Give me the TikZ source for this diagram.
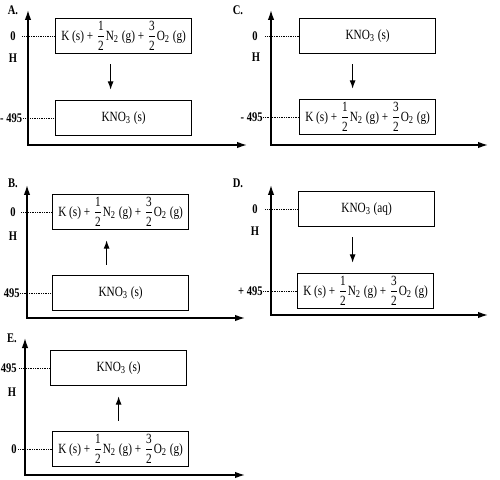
\documentclass[tikz,border=0pt]{standalone}
\usepackage{amsmath}
\usepackage{fontspec}
\setmainfont[FakeStretch=0.8]{Liberation Serif}
\usepackage{tikz}
\usetikzlibrary{arrows.meta, positioning, calc}

\newcommand{\frc}[2]{$\dfrac{\text{#1}}{\text{#2}}$}
\newcommand{\elems}{K (s) + \frc{1}{2}N\textsubscript{2} (g) + \frc{3}{2}O\textsubscript{2} (g)}
\newcommand{\kno}[1]{KNO\textsubscript{3} (#1)}

\begin{document}
\begin{tikzpicture}[
  x=0.2mm, y=-0.2mm,
  font=\fontsize{8}{9.5}\selectfont,
  level/.style={draw, line width=0.7pt, minimum width=27.2mm, minimum height=7mm, inner sep=1pt, anchor=west},
  axis/.style={line width=0.8pt, {Latex[length=2mm, width=1.3mm]}-{Latex[length=2mm, width=1.3mm]}},
  arr/.style={line width=0.7pt, -{Latex[length=1.7mm, width=1.2mm]}, shorten <=2mm, shorten >=2mm},
  lead/.style={line width=0.5pt, dash pattern=on 0.5pt off 0.5pt},
  tag/.style={font=\fontsize{7.5}{9}\selectfont\bfseries, inner sep=0pt},
]
\useasboundingbox (0,0) rectangle (500,480);

\coordinate (aTop) at (28,10);
\coordinate (aO) at (28,145);
\coordinate (aEnd) at (247,145);
\draw[axis] (aTop) -- (aO) -- (aEnd);
\node[level] (a1) at (55,36) {\elems};
\node[level] (a2) at (55,118) {\kno{s}};
\draw[arr] ([xshift=-2.6mm]a1.south) -- ([xshift=-2.6mm]a2.north);
\node[tag] (aName) at (13,10) {A.};
\node[tag] (aH) at (13,58) {H};
\node[tag] (aZero) at (13,36) {0};
\node[tag, anchor=east] (aVal) at (22.5,118) {- 495};
\draw[lead] ($(a1.west -| aO)+(-6,0)$) -- (a1.west);
\draw[lead] ($(a2.west -| aO)+(-5,0)$) -- (a2.west);

\coordinate (cTop) at (271,10);
\coordinate (cO) at (271,145);
\coordinate (cEnd) at (488,145);
\draw[axis] (cTop) -- (cO) -- (cEnd);
\node[level] (c1) at (299,36) {\kno{s}};
\node[level] (c2) at (299,117) {\elems};
\draw[arr] ([xshift=-3mm]c1.south) -- ([xshift=-3mm]c2.north);
\node[tag] (cName) at (238,10) {C.};
\node[tag] (cH) at (256,57) {H};
\node[tag] (cZero) at (255,36) {0};
\node[tag, anchor=east] (cVal) at (263,117) {- 495};
\draw[lead] ($(c1.west -| cO)+(-6,0)$) -- (c1.west);
\draw[lead] ($(c2.west -| cO)+(-8,0)$) -- (c2.west);

\coordinate (bTop) at (27,185);
\coordinate (bO) at (27,318);
\coordinate (bEnd) at (245,318);
\draw[axis] (bTop) -- (bO) -- (bEnd);
\node[level] (b1) at (52,212) {\elems};
\node[level] (b2) at (52,293) {\kno{s}};
\draw[arr] ([xshift=-2.8mm]b2.north) -- ([xshift=-2.8mm]b1.south);
\node[tag] (bName) at (13,183) {B.};
\node[tag] (bH) at (13,236) {H};
\node[tag] (bZero) at (13,212) {0};
\node[tag, anchor=east] (bVal) at (20,293) {495};
\draw[lead] ($(b1.west -| bO)+(-6,0)$) -- (b1.west);
\draw[lead] ($(b2.west -| bO)+(-7,0)$) -- (b2.west);

\coordinate (dTop) at (271,185);
\coordinate (dO) at (271,315);
\coordinate (dEnd) at (488,315);
\draw[axis] (dTop) -- (dO) -- (dEnd);
\node[level] (d1) at (298,209) {\kno{aq}};
\node[level] (d2) at (297,291) {\elems};
\draw[arr] ([xshift=-2.8mm]d1.south) -- ([xshift=-2.8mm]d1.south |- d2.north);
\node[tag] (dName) at (238,183) {D.};
\node[tag] (dH) at (255,231) {H};
\node[tag] (dZero) at (255,209) {0};
\node[tag, anchor=east] (dVal) at (263,291) {+ 495};
\draw[lead] ($(d1.west -| dO)+(-6,0)$) -- (d1.west);
\draw[lead] ($(d2.west -| dO)+(-8,0)$) -- (d2.west);

\coordinate (eTop) at (25,338);
\coordinate (eO) at (25,475);
\coordinate (eEnd) at (245,475);
\draw[axis] (eTop) -- (eO) -- (eEnd);
\node[level] (e1) at (50,368) {\kno{s}};
\node[level] (e2) at (52,449) {\elems};
\draw[arr] ([xshift=-0.4mm]e2.north) -- ([xshift=-0.4mm]e2.north |- e1.south);
\node[tag] (eName) at (12,338) {E.};
\node[tag] (eH) at (12,392) {H};
\node[tag] (eZero) at (14,449) {0};
\node[tag, anchor=east] (eVal) at (17,368) {495};
\draw[lead] ($(e1.west -| eO)+(-6,0)$) -- (e1.west);
\draw[lead] ($(e2.west -| eO)+(-7,0)$) -- (e2.west);
\end{tikzpicture}
\end{document}
